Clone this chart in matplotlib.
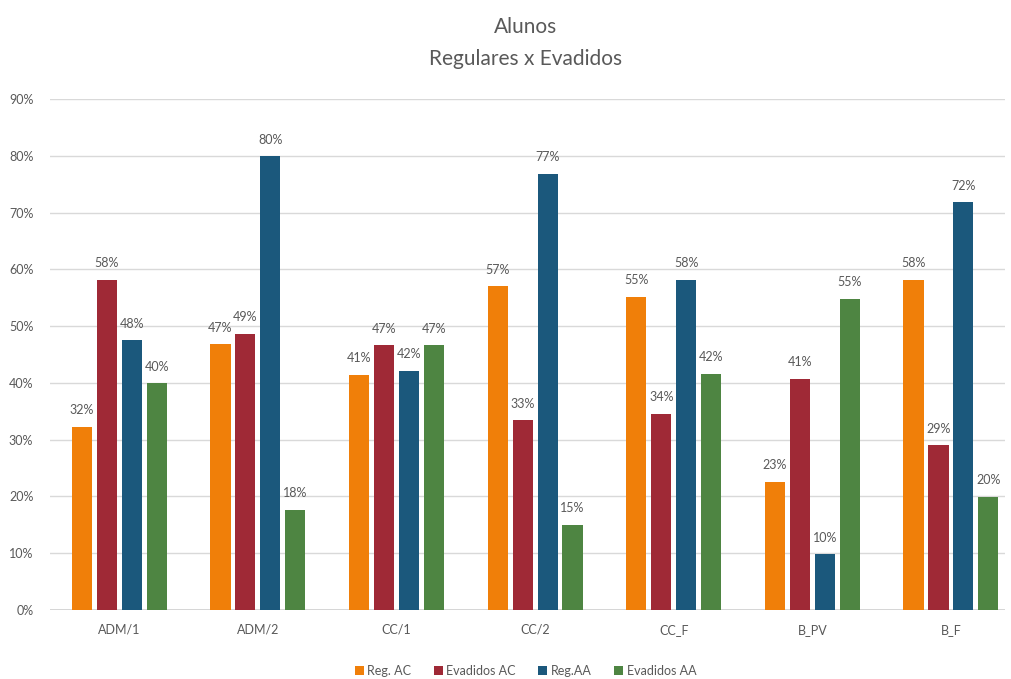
import matplotlib.pyplot as plt
import numpy as np

plt.rcParams['font.family'] = ['Lato', 'DejaVu Sans']

# dados
categorias = ['ADM/1', 'ADM/2', 'CC/1', 'CC/2', 'CC_F', 'B_PV', 'B_F']
series = ['Reg. AC', 'Evadidos AC', 'Reg.AA', 'Evadidos AA']
reg_ac = [32.3, 46.8, 41.4, 57.0, 55.2, 22.6, 58.1]
evadidos_ac = [58.1, 48.6, 46.6, 33.4, 34.5, 40.7, 29.0]
reg_aa = [47.5, 79.9, 42.1, 76.8, 58.1, 9.8, 71.8]
evadidos_aa = [39.9, 17.6, 46.6, 15.0, 41.6, 54.8, 19.9]
cores = ['#F07F09', '#9F2936', '#1B587C', '#4E8542']

valores = [reg_ac, evadidos_ac, reg_aa, evadidos_aa]

fig = plt.figure(figsize=(10.11, 6.79), dpi=100)
ax = fig.add_axes([50 / 1011, 1 - 610 / 679, 955 / 1011, 511 / 679])

x = np.arange(len(categorias))
passo = 0.18
largura = 0.145
for i, (nome, vals, cor) in enumerate(zip(series, valores, cores)):
    pos = x + (i - 1.5) * passo
    v = np.array(vals) / 100
    ax.bar(pos, v, width=largura, color=cor, label=nome, zorder=3)
    for px, pv in zip(pos, v):
        ax.annotate(f'{pv * 100:.0f}%', (px, pv), xytext=(0, 12), textcoords='offset points',
                    ha='center', va='center', fontsize=9, color='#595959')

ax.set_ylim(0, 0.9)
ax.set_xlim(-0.5, 6.39)
ax.set_yticks(np.arange(0, 0.91, 0.1))
ax.set_yticklabels([f'{t}%' for t in range(0, 91, 10)])
ax.set_xticks(x)
ax.set_xticklabels(categorias)
ax.grid(axis='y', color='#d9d9d9', linewidth=1, zorder=0)
for s in ax.spines.values():
    s.set_visible(False)
ax.axhline(0, color='#d0d0d0', linewidth=1.2, zorder=2)
ax.tick_params(axis='both', length=0, labelsize=9, colors='#595959')
ax.tick_params(axis='y', pad=12)
ax.tick_params(axis='x', pad=10)

fig.text(0.52, 1 - 27 / 679, 'Alunos', ha='center', va='center', fontsize=15, color='#595959')
fig.text(0.52, 1 - 59 / 679, 'Regulares x Evadidos', ha='center', va='center', fontsize=15, color='#595959')

fig.legend(loc='center', bbox_to_anchor=(0.52, 1 - 671 / 679), ncol=4, frameon=False,
           fontsize=9, handlelength=0.7, handleheight=0.7, handletextpad=0.3, columnspacing=1.8,
           labelcolor='#595959')

fig.savefig('out.png', dpi=100)
